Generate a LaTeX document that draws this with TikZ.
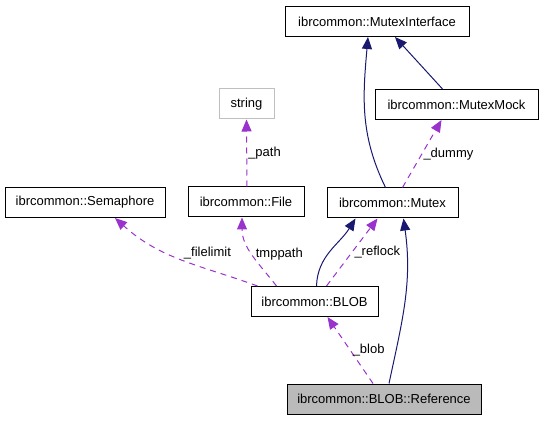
\documentclass[tikz,border=0pt]{standalone}
\usepackage{fontspec}
\setmainfont{Liberation Sans}
\usetikzlibrary{arrows.meta}
\definecolor{inhcol}{HTML}{191970}
\definecolor{usecol}{HTML}{9A32CD}

\begin{document}
\begin{tikzpicture}[x=1pt,y=1pt,->,>={Triangle[length=12pt,width=10pt]},line width=1pt,
    font=\fontsize{13}{15}\selectfont]
   \tikzstyle{cls}=[draw=black,rectangle,minimum height=30pt,inner sep=0pt]
   \tikzstyle{inh}=[color=inhcol]
   \tikzstyle{use}=[color=usecol,dash pattern=on 6pt off 5pt]
   \tikzstyle{lbl}=[text=black,inner sep=1pt]
   \useasboundingbox (0,0) rectangle (544,421);

   \node[cls,minimum width=184pt]   (iface)  at (377,399.5)  {ibrcommon::MutexInterface};
   \node[cls,minimum width=163pt]   (mock)   at (456.5,316.5)  {ibrcommon::MutexMock};
   \node[cls,draw=black!25,minimum width=55pt]   (string)  at (246.5,317)  {string};
   \node[cls,minimum width=160pt]   (sema)   at (85,218.5)  {ibrcommon::Semaphore};
   \node[cls,minimum width=116pt]   (file)   at (246,219)  {ibrcommon::File};
   \node[cls,minimum width=131pt]   (mutex)  at (392.5,218)  {ibrcommon::Mutex};
   \node[cls,minimum width=127pt]   (blob)   at (314.5,119.5)  {ibrcommon::BLOB};
   \node[cls,fill=black!27,minimum width=194pt]   (ref)  at (384,22)  {ibrcommon::BLOB::Reference};

   \path[inh]
     ([xshift=-7pt]mutex.north)  edge  [out=116,in=-95]  ([xshift=-9pt]iface.south)
     ([xshift=-14pt]mock.north)  edge  ([xshift=18pt]iface.south)
     ([xshift=2pt]blob.north)  edge  [out=88,in=-122]  ([xshift=-37pt]mutex.south)
     ([xshift=5pt]ref.north)  edge  [out=78,in=-82]  ([xshift=11pt]mutex.south);

   \path[use]
     ([xshift=10pt]mutex.north)  edge  node[lbl,right,pos=0.5] {\_dummy}  ([xshift=-15pt]mock.south)
     ([xshift=1pt]file.north)  edge  node[lbl,right,pos=0.5] {\_path}  (string.south)
     ([xshift=-57pt]blob.north)  edge  [out=160,in=-42]  node[lbl,pos=0.4,above,xshift=12pt,yshift=4pt] {\_filelimit}  ([xshift=30pt]sema.south)
     ([xshift=-38pt]blob.north)  edge  [out=128,in=-90]  node[lbl,pos=0.5,right=2pt] {tmppath}  ([xshift=-4pt]file.south)
     ([xshift=12pt]blob.north)  edge  node[lbl,pos=0.5,right=1pt] {\_reflock}  ([xshift=-15pt]mutex.south)
     ([xshift=-11pt]ref.north)  edge  node[lbl,pos=0.5,right=1pt] {\_blob}  ([xshift=13pt]blob.south);
\end{tikzpicture}
\end{document}
